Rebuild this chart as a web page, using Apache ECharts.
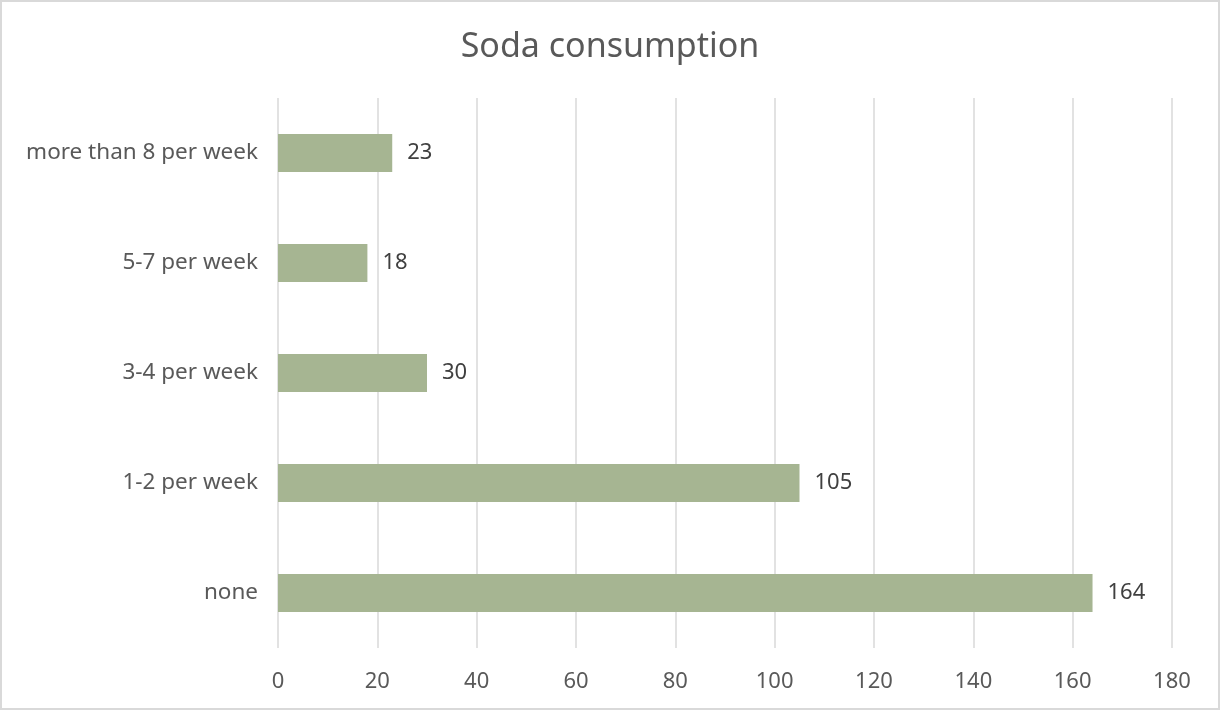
<!DOCTYPE html>
<html>
<head>
<meta charset="utf-8">
<style>
  html, body { margin: 0; padding: 0; background: #fff; }
  #chart { width: 1220px; height: 710px; box-sizing: border-box; border: 2px solid #d9d9d9; }
</style>
<script src="https://cdn.jsdelivr.net/npm/echarts@6/dist/echarts.min.js"></script>
</head>
<body>
<div id="chart"></div>
<script>
// Survey answers, bottom to top
const categories = ['none', '1-2 per week', '3-4 per week', '5-7 per week', 'more than 8 per week'];
const counts = [164, 105, 30, 18, 23];
const xTicks = [0, 20, 40, 60, 80, 100, 120, 140, 160, 180];

const FONT = '"Noto Sans", "DejaVu Sans", sans-serif';
const chart = echarts.init(document.getElementById('chart'));
chart.setOption({
  animation: false,
  title: {
    text: 'Soda consumption',
    left: 'center',
    top: 23,
    textStyle: { fontFamily: FONT, fontSize: 34, fontWeight: 'normal', color: '#595959' }
  },
  grid: { left: 276, right: 46, top: 96, bottom: 60, containLabel: false },
  xAxis: {
    type: 'value',
    min: xTicks[0],
    max: xTicks[xTicks.length - 1],
    interval: 20,
    axisLine: { show: false },
    axisTick: { show: false },
    splitLine: { show: true, lineStyle: { color: '#d9d9d9', width: 1.5 } },
    axisLabel: { fontFamily: FONT, fontSize: 22, color: '#595959', margin: 23 }
  },
  yAxis: {
    type: 'category',
    data: categories,
    axisLine: { show: false },
    axisTick: { show: false },
    axisLabel: { fontFamily: FONT, fontSize: 22.5, color: '#595959', margin: 20, padding: [10, 0, 0, 0] }
  },
  series: [{
    type: 'bar',
    data: counts,
    barWidth: 38,
    itemStyle: { color: '#a6b592' },
    label: {
      show: true,
      position: 'right',
      distance: 15,
      fontFamily: FONT,
      fontSize: 22,
      color: '#404040'
    }
  }]
});
</script>
</body>
</html>
